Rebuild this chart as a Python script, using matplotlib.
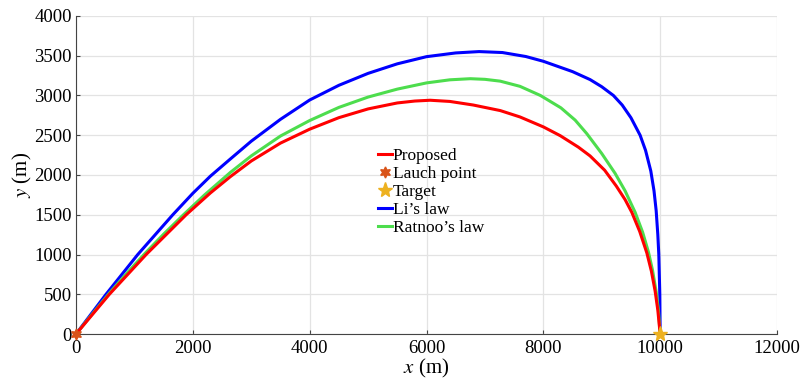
import matplotlib.pyplot as plt

plt.rcParams['font.family'] = 'Liberation Serif'
plt.rcParams['mathtext.fontset'] = 'stix'

# trayectorias (x en m, y en m)
x_prop = [0, 571, 1200, 1885, 2300, 2640, 3000, 3500, 4000, 4500, 5000, 5500, 5800, 6062,
          6400, 6800, 7263, 7600, 8000, 8288, 8600, 8800, 9050, 9250, 9400, 9515, 9650, 9772,
          9850, 9914, 9960, 10000]
y_prop = [0, 500, 1000, 1500, 1774, 1978, 2176, 2401, 2576, 2721, 2831, 2906, 2930, 2940,
          2925, 2880, 2810, 2730, 2605, 2495, 2350, 2240, 2060, 1860, 1690, 1530, 1290, 1020,
          790, 540, 300, 0]

x_li = [0, 514, 1057, 1657, 2000, 2300, 2640, 3000, 3500, 4000, 4500, 5000, 5500, 6000, 6500,
        6900, 7300, 7700, 8000, 8500, 8800, 9000, 9200, 9350, 9500, 9657, 9750, 9840, 9895,
        9932, 9960, 9977, 9994, 10000]
y_li = [0, 500, 1000, 1500, 1770, 1985, 2200, 2425, 2700, 2943, 3128, 3278, 3398, 3488, 3535,
        3552, 3540, 3490, 3430, 3300, 3200, 3110, 3000, 2880, 2720, 2500, 2310, 2050, 1800,
        1550, 1250, 1000, 500, 0]

x_rat = [0, 285, 571, 870, 1171, 1500, 1828, 2200, 2640, 3000, 3500, 4000, 4500, 5000, 5500,
         6000, 6400, 6750, 7000, 7263, 7600, 7950, 8300, 8545, 8744, 9000, 9229, 9400, 9572,
         9700, 9800, 9870, 9932, 9970, 10000]
y_rat = [0, 258, 514, 765, 1006, 1256, 1492, 1749, 2031, 2240, 2490, 2685, 2850, 2980, 3080,
         3158, 3197, 3211, 3203, 3180, 3115, 3000, 2845, 2690, 2520, 2270, 2020, 1800, 1530,
         1280, 1030, 800, 530, 300, 0]

lanzamiento = (0, 0)
objetivo = (10000, 0)

fig = plt.figure(figsize=(8.02, 3.8), dpi=100)
ax = fig.add_axes([0.0948, 0.121, 0.874, 0.837])

ax.plot(x_prop, y_prop, color='#FF0000', lw=2.2, label='Proposed', zorder=3)
ax.plot(*lanzamiento, marker=(6, 1, 0), color='#D95319', markersize=8, ls='none',
        label='Lauch point', zorder=5, clip_on=False)
ax.plot(*objetivo, marker='*', color='#EDB120', markersize=11, ls='none',
        label='Target', zorder=5, clip_on=False)
ax.plot(x_li, y_li, color='#0000FF', lw=2.2, label='Li\u2019s law', zorder=2)
ax.plot(x_rat, y_rat, color='#4DDD4D', lw=2.2, label='Ratnoo\u2019s law', zorder=2)

ax.set_xlim(0, 12000)
ax.set_ylim(0, 4000)
ax.set_xticks(range(0, 12001, 2000))
ax.set_yticks(range(0, 4001, 500))
ax.tick_params(labelsize=13.5, direction='in', length=3, width=0.8, color='#444444')
ax.tick_params(axis='x', pad=4)
ax.tick_params(axis='y', pad=3)
ax.grid(color='#E3E3E3', lw=0.9)
ax.set_axisbelow(True)
for s in ['top', 'right']:
    ax.spines[s].set_visible(False)
for s in ['left', 'bottom']:
    ax.spines[s].set_color('#444444')
    ax.spines[s].set_linewidth(0.8)

ax.set_xlabel('$x$ (m)', fontsize=15, labelpad=0.5)
ax.set_ylabel('$y$ (m)', fontsize=15, labelpad=0.5)

ax.legend(loc='upper left', bbox_to_anchor=(0.431, 0.585), frameon=False, fontsize=12.5,
          handlelength=0.8, handletextpad=0.05, labelspacing=0.1, borderaxespad=0,
          borderpad=0)

fig.savefig('out.png', dpi=100)
